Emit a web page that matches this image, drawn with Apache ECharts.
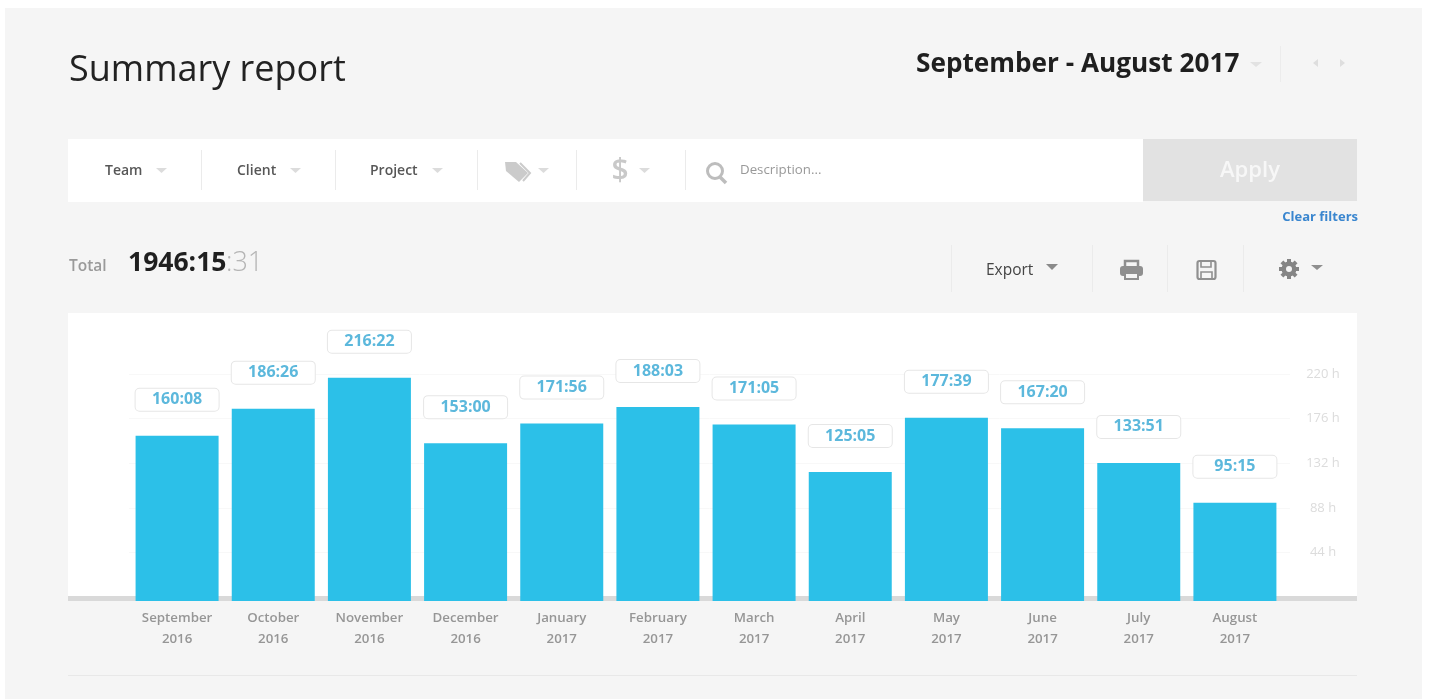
<!DOCTYPE html>
<html><head><meta charset="utf-8">
<style>html,body{margin:0;padding:0;background:#fff}#c{width:1429px;height:699px}</style>
<script src="https://cdn.jsdelivr.net/npm/echarts@6/dist/echarts.min.js"></script>
</head><body><div id="c"></div>
<script>
const months = ['September','October','November','December','January','February','March','April','May','June','July','August'];
const years = ['2016','2016','2016','2016','2017','2017','2017','2017','2017','2017','2017','2017'];
const durations = ['160:08','186:26','216:22','153:00','171:56','188:03','171:05','125:05','177:39','167:20','133:51','95:15'];
const hours = [160.13,186.43,216.37,153.0,171.93,188.05,171.08,125.08,177.65,167.33,133.85,95.25];
const axisMax = 220, axisStep = 44;
const FONT = '"Open Sans", sans-serif';

const rect=(x,y,w,h,fill,extra)=>({type:'rect',silent:true,shape:{x,y,width:w,height:h},style:Object.assign({fill},extra||{})});
const txt=(x,y,t,size,fill,weight,align)=>({type:'text',silent:true,x,y,style:{text:t,fontFamily:FONT,fontSize:size,fill,fontWeight:weight||'normal',align:align||'left',verticalAlign:'middle'}});
const caret=(x,y,w,h,fill)=>({type:'polygon',silent:true,shape:{points:[[x,y],[x+w,y],[x+w/2,y+h]]},style:{fill}});
const vline=(x,y1,y2,c)=>rect(x,y1,1,y2-y1,c||'#ebebeb');

const icons=[
 // tag
 {type:'polygon',silent:true,shape:{points:[[505,162],[516,162],[528,173],[519,182],[506,171]]},style:{fill:'#cbcbcb'}},
 {type:'polyline',silent:true,shape:{points:[[520,163],[530,173],[523,181]]},style:{fill:'none',stroke:'#cbcbcb',lineWidth:2}},
 // magnifier
 {type:'circle',silent:true,shape:{cx:715,cy:171,r:7.5},style:{fill:'none',stroke:'#bdbdbd',lineWidth:3}},
 {type:'line',silent:true,shape:{x1:720,y1:177,x2:726,y2:183},style:{stroke:'#bdbdbd',lineWidth:3.5}},
 // printer
 rect(1125,261,13,7,'none',{stroke:'#8f8f8f',lineWidth:2.5}),
 {type:'rect',silent:true,shape:{x:1120,y:266,width:23,height:10,r:3},style:{fill:'#8f8f8f'}},
 rect(1125,273,13,6,'#f4f4f4',{stroke:'#8f8f8f',lineWidth:2}),
 // floppy
 {type:'rect',silent:true,shape:{x:1197.5,y:261,width:18,height:18,r:2},style:{fill:'none',stroke:'#909090',lineWidth:2.2}},
 rect(1201,261,10,6,'none',{stroke:'#909090',lineWidth:1.6}),
 rect(1201,272,11,7,'none',{stroke:'#909090',lineWidth:1.6}),
 // gear
 ...[0,45,90,135].map(a=>({type:'rect',silent:true,x:1289,y:269,rotation:a*Math.PI/180,shape:{x:-2,y:-10,width:4,height:20},style:{fill:'#858585'}})),
 {type:'circle',silent:true,shape:{cx:1289,cy:269,r:5.5},style:{fill:'none',stroke:'#858585',lineWidth:4}},
 {type:'circle',silent:true,shape:{cx:1289,cy:269,r:3},style:{fill:'#f4f4f4'}}
];

const elements=[
 rect(5,8,1417,691,'#f5f5f5'),
 txt(69,71,'Summary report',36,'#222'),
 txt(916,65,'September - August 2017',26.2,'#1f1f1f','700'),
 caret(1250,62,12,5,'#e2e2e2'),
 vline(1280,46,82,'#ececec'),
 {type:'polygon',silent:true,shape:{points:[[1318,59],[1318,67],[1313,63]]},style:{fill:'#dedede'}},
 {type:'polygon',silent:true,shape:{points:[[1340,59],[1340,67],[1345,63]]},style:{fill:'#dedede'}},
 // filter bar
 rect(68,139,1075,63,'#fff'),
 rect(1143,139,214,62,'#e2e2e2'),
 txt(1250,171,'Apply',22,'#f7f7f7','600','center'),
 txt(105,171,'Team',14,'#575757','600'), caret(156,168,11,5,'#dcdcdc'),
 vline(201,150,190),
 txt(237,171,'Client',14,'#575757','600'), caret(290,168,11,5,'#dcdcdc'),
 vline(335,150,190),
 txt(370,171,'Project',14,'#575757','600'), caret(432,168,11,5,'#dcdcdc'),
 vline(477,150,190),
 caret(538,168,11,5,'#dcdcdc'),
 vline(576,150,190),
 txt(620,171,'$',30,'#c9c9c9','600','center'), caret(639,168,11,5,'#dcdcdc'),
 vline(685,150,190),
 txt(740,170,'Description...',13.3,'#999'),
 txt(1358,217,'Clear filters',13,'#3a86cf','700','right'),
 // totals
 txt(69,267,'Total',15.5,'#9a9a9a','600'),
 txt(128,263,'1946:15',26.5,'#1f1f1f','700'),
 txt(226,263,':31',27,'#b5b5b5','300'),
 // toolbar
 vline(951,245,292), vline(1092,245,292), vline(1167,245,292), vline(1243,245,292),
 txt(986,271,'Export',15.5,'#444'), caret(1046,264,12,6,'#8a8a8a'),
 caret(1311,265,12,5,'#8f8f8f'),
 ...icons,
 // chart panel and baseline
 rect(68,313,1289,284,'#fff'),
 rect(68,596,1289,5,'#d9d9d9'),
 rect(68,675,1289,1,'#e8e8e8')
];

const chart=echarts.init(document.getElementById('c'),null,{renderer:'canvas'});
chart.setOption({
 animation:false,
 textStyle:{fontFamily:FONT},
 graphic:{elements},
 grid:[
  {left:129,top:374,width:1161,height:223},
  {left:129,top:374,width:1154,height:227}
 ],
 xAxis:[
  {gridIndex:0,type:'category',data:months,show:false},
  {gridIndex:1,type:'category',data:months.map((m,i)=>m+'\n'+years[i]),
   axisLine:{show:false},axisTick:{show:false},
   axisLabel:{color:'#969696',fontSize:13.3,fontWeight:600,lineHeight:21,margin:7,interval:0,fontFamily:FONT}}
 ],
 yAxis:[
  {gridIndex:0,type:'value',position:'right',min:0,max:axisMax,interval:axisStep,
   axisLine:{show:false},axisTick:{show:false},
   splitLine:{show:true,showMinLine:false,lineStyle:{color:'#f8f8f8',width:1}},
   axisLabel:{color:'#dcdcdc',fontSize:13,margin:33,align:'center',fontFamily:FONT,
    formatter:v=>v===0?'':v+' h'}},
  {gridIndex:1,type:'value',min:0,max:axisMax,show:false}
 ],
 series:[{
  type:'bar',xAxisIndex:1,yAxisIndex:1,data:hours,barWidth:83,
  itemStyle:{color:'#2cc0e8'},
  label:{show:true,position:'top',distance:36,
   formatter:p=>durations[p.dataIndex],
   color:'#5cb8dc',fontSize:16,fontWeight:700,fontFamily:FONT,
   backgroundColor:'#fff',borderColor:'#e6e6e6',borderWidth:1,borderRadius:4,
   width:83,height:22,lineHeight:22,align:'center',verticalAlign:'middle'}
 }]
});
</script></body></html>
